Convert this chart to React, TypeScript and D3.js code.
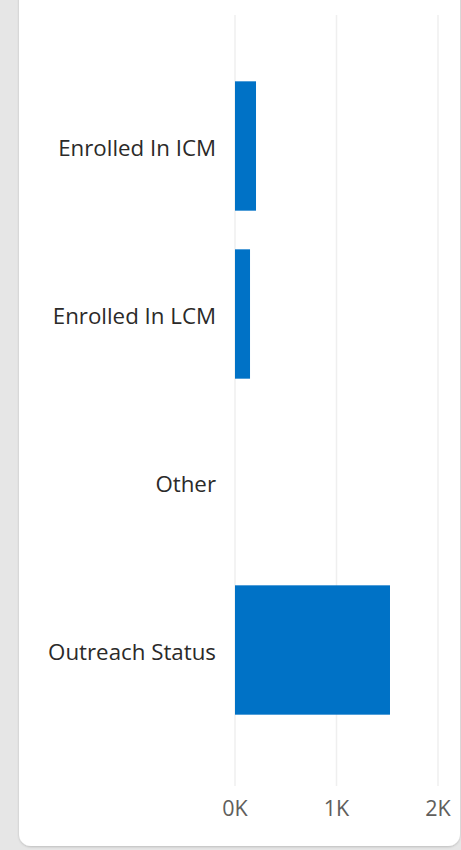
import React from "react";
import * as d3 from "d3";

const categories = ["Enrolled In ICM", "Enrolled In LCM", "Other", "Outreach Status"];
const values = [207, 148, 0, 1527];
const tickValues = [0, 1000, 2000];
const tickLabels = ["0K", "1K", "2K"];

const W = 461;
const H = 850;

export default function App() {
  const x = d3.scaleLinear().domain([0, 2000]).range([235, 438]);
  const y = d3
    .scaleBand<string>()
    .domain(categories)
    .range([62, 734])
    .paddingInner(0.23)
    .paddingOuter(0.115);

  const font = "'Segoe UI', 'Open Sans', 'Noto Sans', sans-serif";

  return (
    <div style={{ position: "fixed", left: 0, top: 0, width: W, height: H }}>
      <svg width={W} height={H} style={{ display: "block" }}>
        <defs>
          <filter id="sh" x="-5%" y="-5%" width="110%" height="110%">
            <feDropShadow dx="0" dy="1" stdDeviation="1.2" floodColor="#000" floodOpacity="0.18" />
          </filter>
        </defs>
        <rect x={0} y={0} width={W} height={H} fill="#e6e6e6" />
        <rect x={19} y={-20} width={441} height={866} rx={12} fill="#ffffff" filter="url(#sh)" />
        {tickValues.map((t) => (
          <line
            key={"g" + t}
            x1={x(t)}
            x2={x(t)}
            y1={15}
            y2={786}
            stroke="#efefef"
            strokeWidth={1.5}
          />
        ))}
        {categories.map((c, i) => (
          <rect
            key={c}
            x={x(0)}
            y={y(c)}
            width={x(values[i]) - x(0)}
            height={y.bandwidth()}
            fill="#0072c6"
          />
        ))}
        {categories.map((c) => (
          <text
            key={"l" + c}
            x={216}
            y={(y(c) as number) + y.bandwidth() / 2 + 1.5}
            textAnchor="end"
            dominantBaseline="central"
            fontFamily={font}
            fontSize={22.3}
            fill="#2b2a29"
          >
            {c}
          </text>
        ))}
        {tickValues.map((t, i) => (
          <text
            key={"t" + t}
            x={x(t)}
            y={816}
            textAnchor="middle"
            fontFamily={font}
            fontSize={21.5}
            fill="#605e5c"
          >
            {tickLabels[i]}
          </text>
        ))}
      </svg>
    </div>
  );
}
